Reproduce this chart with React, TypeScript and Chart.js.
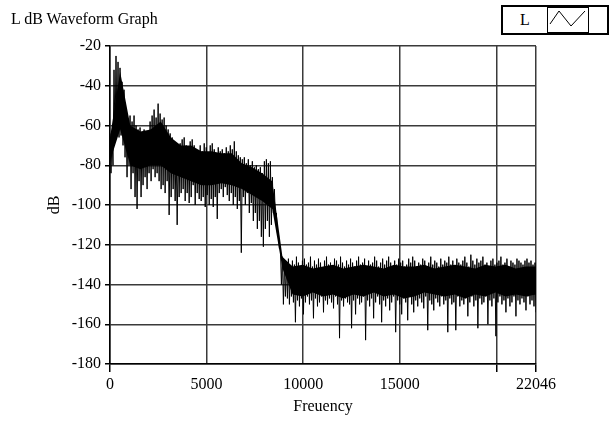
import React, { useEffect, useRef } from 'react';
import { Chart, registerables } from 'chart.js';

Chart.register(...registerables);

// Frequency axis (Hz)
const freqMax = 22046;
const xTickValues = [0, 5000, 10000, 15000, 20000, 22046];
const xTickLabels = ['0', '5000', '10000', '15000', '', '22046'];
const xTicksWithMark = [0, 20000, 22046];

// dB axis
const yMin = -180;
const yMax = -20;
const yStep = 20;

// Spectrum extremes: per frequency bin pair, the peak (upper) and trough (lower) level in dB
const upperDb = [
  -64, -66, -32, -25, -28, -31, -38, -42,
  -54, -57, -55, -58, -55, -60, -62, -61,
  -64, -62, -66, -63, -58, -55, -52, -56, -49, -54, -57, -56, -60, -62, -64,
  -66, -68, -70, -72, -69, -67, -66, -70, -72, -68, -67, -70, -72, -74,
  -70, -73, -69, -71, -74, -70, -69, -72, -74, -71, -73, -72, -74, -71, -73, -70, -72, -68, -73, -75,
  -76, -77, -76, -79, -77, -80, -78, -81, -80, -82, -81, -84, -78, -77, -79, -78,
  -86, -92, -104, -114, -121, -126, -129,
  -129, -127, -131, -128, -130, -126, -129, -131, -128, -127,
  -130, -129, -126, -131, -128, -130, -127, -129, -132, -128,
  -126, -130, -129, -131, -127, -128, -130, -126, -129, -131,
  -128, -130, -127, -129, -131, -128, -126, -130, -129, -127,
  -131, -128, -130, -129, -126, -128, -131, -129, -127, -130,
  -128, -126, -129, -131, -128, -130, -127, -129, -128, -131,
  -130, -127, -129, -126, -128, -131, -129, -130, -127, -128,
  -131, -129, -126, -130, -128, -129, -131, -127, -130, -128,
  -129, -126, -130, -128, -131, -127, -129, -130, -128, -126,
  -129, -131, -125, -128, -130, -127, -129, -128, -126, -130,
  -129, -131, -128, -127, -130, -129, -128, -126, -130, -129,
  -127, -131, -128, -129, -130, -127, -128, -129, -130, -128,
  -127, -129, -128, -130, -129,
];

const lowerDb = [
  -84, -80, -66, -64, -66, -65, -70, -76,
  -86, -80, -92, -84, -96, -102, -88, -96,
  -90, -86, -92, -84, -88, -82, -86, -84, -88, -92, -90, -94, -88, -105, -96,
  -92, -98, -110, -96, -94, -92, -98, -94, -99, -96, -90, -100, -94, -97,
  -98, -96, -101, -95, -100, -97, -101, -96, -107, -94, -92, -96, -91, -95, -98, -94, -100, -96, -102, -98,
  -124, -96, -100, -94, -104, -99, -108, -104, -112, -108, -116, -121, -112, -108, -116, -110,
  -104, -106, -114, -122, -140, -150, -146,
  -147, -150, -146, -149, -159, -148, -151, -147, -155, -149,
  -146, -150, -148, -157, -147, -151, -149, -146, -154, -148,
  -150, -147, -149, -152, -146, -150, -167, -148, -151, -147,
  -149, -150, -162, -148, -155, -147, -150, -149, -146, -168,
  -148, -151, -147, -157, -149, -146, -150, -159, -148, -151,
  -147, -153, -149, -146, -164, -148, -150, -155, -147, -149,
  -158, -146, -150, -154, -148, -151, -147, -149, -152, -146,
  -163, -148, -150, -153, -147, -149, -151, -146, -150, -148,
  -164, -147, -150, -149, -163, -146, -151, -148, -150, -147,
  -156, -149, -146, -151, -148, -162, -147, -150, -149, -146,
  -160, -148, -151, -147, -166, -149, -146, -150, -148, -154,
  -147, -151, -149, -146, -156, -148, -150, -147, -149, -153,
  -146, -150, -148, -151, -154,
];

// Dense core of the spectrum (where the trace is solid), coarse resolution, dB
const coreTopDb = [
  -66, -33, -60, -63, -62, -58, -66, -70, -70, -73, -73, -74, -74, -79, -81, -84, -88, -126,
  -131, -130, -132, -131, -130, -132, -131, -130, -131, -132, -130, -131, -131,
  -130, -132, -131, -130, -131, -132, -130, -131, -130, -132, -131, -131,
];
const coreBottomDb = [
  -78, -62, -80, -82, -80, -80, -84, -86, -88, -90, -90, -89, -90, -92, -95, -98, -102, -132,
  -145, -146, -144, -146, -145, -147, -145, -146, -144, -146, -145, -147, -146,
  -144, -145, -146, -145, -147, -145, -146, -144, -146, -145, -146, -145,
];

const SERIF = "'Liberation Serif', 'Times New Roman', serif";

export default function App() {
  const canvasRef = useRef<HTMLCanvasElement | null>(null);

  useEffect(() => {
    if (!canvasRef.current) return;
    const n = Math.min(upperDb.length, lowerDb.length);
    const step = freqMax / (2 * n - 1);
    const zigzag: { x: number; y: number }[] = [];
    for (let i = 0; i < n; i++) {
      zigzag.push({ x: 2 * i * step, y: upperDb[i] });
      zigzag.push({ x: (2 * i + 1) * step, y: lowerDb[i] });
    }
    const m = Math.min(coreTopDb.length, coreBottomDb.length);
    const coreStep = freqMax / (m - 1);
    const coreTop = coreTopDb.slice(0, m).map((y, j) => ({ x: j * coreStep, y }));
    const coreBottom = coreBottomDb.slice(0, m).map((y, j) => ({ x: j * coreStep, y }));

    const font = { family: SERIF, size: 16 };
    const gridColor = '#3a3a3a';

    const chart = new Chart(canvasRef.current, {
      type: 'line',
      data: {
        datasets: [
          {
            label: 'core top',
            data: coreTop,
            borderColor: '#000000',
            borderWidth: 0,
            pointRadius: 0,
            tension: 0,
            fill: false,
          },
          {
            label: 'core bottom',
            data: coreBottom,
            borderColor: '#000000',
            backgroundColor: '#000000',
            borderWidth: 0,
            pointRadius: 0,
            tension: 0,
            fill: '-1',
          },
          {
            label: 'L',
            data: zigzag,
            borderColor: '#000000',
            borderWidth: 1,
            pointRadius: 0,
            tension: 0,
            fill: false,
          },
        ],
      },
      options: {
        animation: false,
        responsive: false,
        parsing: false,
        normalized: true,
        events: [],
        layout: { padding: { left: 0, top: 46, right: 73, bottom: 0 } },
        plugins: {
          legend: { display: false },
          tooltip: { enabled: false },
          title: { display: false },
          filler: { propagate: false },
        },
        scales: {
          x: {
            type: 'linear',
            min: 0,
            max: freqMax,
            afterBuildTicks: (s: any) => {
              s.ticks = xTickValues.map((v) => ({ value: v }));
            },
            afterFit: (s: any) => {
              s.height = 60;
            },
            ticks: {
              autoSkip: false,
              maxRotation: 0,
              minRotation: 0,
              padding: 3,
              color: '#000',
              font,
              callback: (v: any) => {
                const idx = xTickValues.indexOf(Number(v));
                return idx >= 0 ? xTickLabels[idx] : '';
              },
            },
            grid: {
              color: gridColor,
              lineWidth: 1.5,
              tickLength: 8,
              tickWidth: 1.5,
              tickColor: (ctx: any) =>
                ctx.tick && xTicksWithMark.includes(ctx.tick.value) ? '#000' : 'rgba(0,0,0,0)',
            },
            border: { color: '#000', width: 1.5 },
            title: {
              display: true,
              text: 'Freuency',
              color: '#000',
              font,
              padding: { top: 0, bottom: 8 },
            },
          },
          y: {
            type: 'linear',
            min: yMin,
            max: yMax,
            afterFit: (s: any) => {
              s.width = 110;
            },
            ticks: {
              stepSize: yStep,
              padding: 4,
              color: '#000',
              font,
            },
            grid: {
              color: gridColor,
              lineWidth: 1.5,
              tickLength: 5,
              tickWidth: 1.5,
              tickColor: '#000',
            },
            border: { color: '#000', width: 1.5 },
            title: {
              display: true,
              text: 'dB',
              color: '#000',
              font,
              padding: { top: 45, bottom: 0 },
            },
          },
        },
      },
    } as any);

    return () => chart.destroy();
  }, []);

  return (
    <div style={{ position: 'absolute', left: 0, top: 0, width: 609, height: 424, background: '#fff', overflow: 'hidden' }}>
      <canvas ref={canvasRef} width={609} height={424} style={{ position: 'absolute', left: 0, top: 0, display: 'block' }} />
      <div
        style={{
          position: 'absolute',
          left: 11,
          top: 11,
          fontFamily: SERIF,
          fontSize: 16,
          lineHeight: '16px',
          color: '#000',
          whiteSpace: 'nowrap',
        }}
      >
        L dB Waveform Graph
      </div>
      <div
        style={{
          position: 'absolute',
          left: 501,
          top: 5,
          width: 108,
          height: 30,
          boxSizing: 'border-box',
          border: '2px solid #000',
          background: '#fff',
          display: 'flex',
        }}
      >
        <div
          style={{
            width: 44,
            height: 26,
            display: 'flex',
            alignItems: 'center',
            justifyContent: 'center',
            fontFamily: SERIF,
            fontSize: 16,
            color: '#000',
          }}
        >
          L
        </div>
        <div
          style={{
            width: 42,
            height: 26,
            boxSizing: 'border-box',
            border: '1.5px solid #000',
            background: '#fff',
          }}
        >
          <svg width={39} height={23} style={{ display: 'block' }}>
            <polyline points="2,16 11,3 23,18 37,3" fill="none" stroke="#000" strokeWidth={1} />
          </svg>
        </div>
        <div style={{ width: 18, height: 26, background: '#fff' }} />
      </div>
    </div>
  );
}
